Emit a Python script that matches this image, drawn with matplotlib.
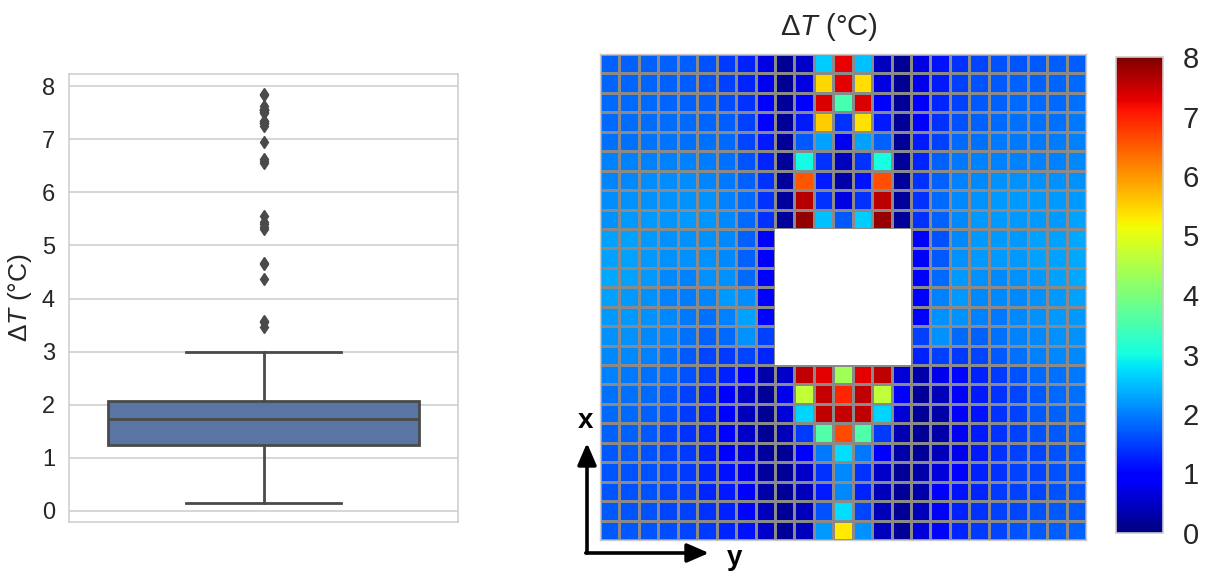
import numpy as np
import matplotlib
matplotlib.use("Agg")
import matplotlib.pyplot as plt
from matplotlib.colors import ListedColormap
from matplotlib.patches import FancyArrowPatch

plt.rcParams['font.family'] = ['Liberation Sans', 'DejaVu Sans']
plt.rcParams['mathtext.fontset'] = 'custom'
plt.rcParams['mathtext.rm'] = 'Liberation Sans'
plt.rcParams['mathtext.it'] = 'Liberation Sans:italic'

nan = np.nan
H7 = [nan] * 7

# Temperature rise per grid cell (°C); NaN marks the opening in the plate
row_00 = [1.77, 1.78, 1.78, 1.75, 1.72, 1.63, 1.44, 1.25, 0.70, 0.15, 0.50, 2.60, 7.25, 2.50, 0.45, 0.15, 0.70, 1.15, 1.38, 1.56, 1.63, 1.66, 1.69, 1.72, 1.74]
row_01 = [1.80, 1.80, 1.80, 1.78, 1.74, 1.68, 1.52, 1.30, 0.80, 0.15, 0.70, 5.45, 7.30, 5.40, 0.70, 0.15, 0.78, 1.19, 1.50, 1.63, 1.69, 1.75, 1.77, 1.80, 1.82]
row_02 = [1.82, 1.82, 1.82, 1.80, 1.78, 1.74, 1.60, 1.40, 0.90, 0.16, 0.95, 7.35, 3.47, 7.35, 0.95, 0.16, 0.85, 1.31, 1.53, 1.69, 1.75, 1.82, 1.82, 1.84, 1.88]
row_03 = [1.84, 1.86, 1.86, 1.86, 1.84, 1.80, 1.72, 1.50, 1.02, 0.18, 1.20, 5.55, 1.38, 5.35, 1.20, 0.18, 0.95, 1.38, 1.63, 1.75, 1.82, 1.88, 1.88, 1.90, 1.94]
row_04 = [1.88, 1.90, 1.92, 1.92, 1.90, 1.88, 1.82, 1.56, 1.19, 0.18, 1.70, 2.25, 0.80, 2.25, 1.75, 0.18, 1.19, 1.50, 1.82, 1.88, 1.94, 1.94, 1.94, 1.97, 2.00]
row_05 = [2.00, 2.00, 2.02, 2.02, 2.00, 1.98, 1.90, 1.68, 1.31, 0.20, 2.98, 1.40, 0.45, 1.40, 3.00, 0.20, 1.31, 1.75, 1.94, 2.00, 2.00, 2.00, 2.00, 2.03, 2.07]
row_06 = [2.05, 2.08, 2.10, 2.10, 2.10, 2.05, 1.96, 1.76, 1.38, 0.20, 6.56, 1.19, 0.30, 1.13, 6.60, 0.20, 1.38, 1.75, 2.00, 2.07, 2.13, 2.13, 2.13, 2.13, 2.13]
row_07 = [2.10, 2.14, 2.15, 2.13, 2.15, 2.13, 2.03, 1.82, 1.40, 0.20, 7.62, 1.38, 0.70, 1.38, 7.58, 0.20, 1.38, 1.82, 2.07, 2.13, 2.19, 2.19, 2.19, 2.19, 2.19]
row_08 = [2.15, 2.20, 2.20, 2.18, 2.20, 2.18, 2.08, 1.82, 1.38, 0.20, 7.86, 2.50, 1.69, 2.60, 7.84, 0.20, 1.38, 1.75, 2.07, 2.19, 2.19, 2.19, 2.19, 2.19, 2.25]
row_09 = [2.28, 2.27, 2.20, 2.13, 2.13, 2.13, 2.07, 1.75, 0.95] + H7 + [0.95, 1.63, 2.07, 2.19, 2.19, 2.19, 2.25, 2.25, 2.32]
row_10 = [2.28, 2.27, 2.20, 2.13, 2.13, 2.13, 2.07, 1.75, 0.95] + H7 + [0.95, 1.69, 2.13, 2.19, 2.19, 2.19, 2.25, 2.25, 2.32]
row_11 = [2.32, 2.26, 2.19, 2.07, 2.00, 2.13, 2.13, 1.82, 0.95] + H7 + [0.95, 1.82, 2.19, 2.13, 2.07, 2.13, 2.19, 2.25, 2.32]
row_12 = [2.26, 2.19, 2.13, 2.03, 1.97, 2.05, 2.19, 2.10, 0.95] + H7 + [0.95, 2.00, 2.19, 2.07, 2.07, 2.07, 2.13, 2.19, 2.25]
row_13 = [2.19, 2.19, 2.13, 2.07, 1.94, 1.88, 2.00, 2.25, 1.05] + H7 + [0.97, 2.13, 2.13, 2.00, 1.94, 2.07, 2.13, 2.19, 2.19]
row_14 = [2.13, 2.13, 2.07, 2.00, 1.88, 1.75, 1.82, 2.13, 1.50] + H7 + [1.50, 2.13, 1.82, 1.75, 1.88, 2.00, 2.07, 2.13, 2.13]
row_15 = [2.07, 2.07, 2.00, 1.88, 1.69, 1.56, 1.44, 1.56, 1.31] + H7 + [1.25, 1.50, 1.44, 1.56, 1.69, 1.88, 2.00, 2.07, 2.07]
row_16 = [2.00, 1.94, 1.88, 1.82, 1.63, 1.44, 1.25, 1.05, 0.30, 0.53, 7.55, 7.30, 4.36, 7.30, 7.55, 0.60, 0.30, 0.76, 1.05, 1.25, 1.44, 1.63, 1.82, 1.88, 1.94]
row_17 = [1.88, 1.88, 1.82, 1.69, 1.50, 1.31, 0.95, 0.53, 0.17, 0.76, 4.66, 7.50, 6.95, 7.55, 4.65, 0.85, 0.18, 0.41, 0.95, 1.19, 1.38, 1.56, 1.69, 1.82, 1.88]
row_18 = [1.82, 1.82, 1.75, 1.63, 1.44, 1.25, 0.95, 0.41, 0.15, 0.65, 2.66, 7.55, 7.52, 7.55, 2.66, 0.60, 0.16, 0.29, 0.95, 1.13, 1.38, 1.50, 1.69, 1.75, 1.82]
row_19 = [1.75, 1.75, 1.69, 1.56, 1.38, 1.25, 0.95, 0.53, 0.15, 0.41, 1.44, 3.58, 6.63, 3.55, 1.44, 0.35, 0.16, 0.29, 0.82, 1.19, 1.38, 1.50, 1.63, 1.69, 1.75]
row_20 = [1.69, 1.69, 1.63, 1.56, 1.44, 1.25, 0.95, 0.65, 0.20, 0.18, 0.92, 1.94, 2.73, 1.94, 0.92, 0.29, 0.18, 0.41, 0.78, 1.19, 1.38, 1.50, 1.56, 1.63, 1.69]
row_21 = [1.66, 1.64, 1.63, 1.56, 1.44, 1.31, 1.13, 0.76, 0.20, 0.16, 0.53, 1.38, 2.07, 1.38, 0.53, 0.16, 0.29, 0.65, 0.95, 1.25, 1.38, 1.50, 1.56, 1.63, 1.66]
row_22 = [1.66, 1.64, 1.63, 1.56, 1.47, 1.31, 1.19, 0.92, 0.29, 0.16, 0.41, 1.19, 2.07, 1.25, 0.41, 0.16, 0.29, 0.92, 1.13, 1.31, 1.44, 1.50, 1.56, 1.63, 1.66]
row_23 = [1.69, 1.66, 1.63, 1.56, 1.50, 1.38, 1.25, 1.05, 0.41, 0.16, 0.41, 1.63, 2.73, 1.56, 0.41, 0.16, 0.41, 0.95, 1.25, 1.38, 1.50, 1.56, 1.63, 1.69, 1.69]
row_24 = [1.69, 1.69, 1.66, 1.60, 1.54, 1.44, 1.31, 1.13, 0.53, 0.16, 0.41, 2.19, 5.31, 2.13, 0.41, 0.16, 0.65, 1.05, 1.31, 1.44, 1.54, 1.63, 1.69, 1.72, 1.75]

delta_t = np.array([row_00, row_01, row_02, row_03, row_04, row_05, row_06, row_07,
                    row_08, row_09, row_10, row_11, row_12, row_13, row_14, row_15,
                    row_16, row_17, row_18, row_19, row_20, row_21, row_22, row_23,
                    row_24], dtype=float)

cbar_ticks = [0, 1, 2, 3, 4, 5, 6, 7, 8]
label_text = 'Δ$T$ (°C)'

W, H = 1207, 579
fig = plt.figure(figsize=(W / 100, H / 100), dpi=100)


def px_box(left, top, right, bottom):
    return [left / W, 1 - bottom / H, (right - left) / W, (bottom - top) / H]


text_col = '#262626'
edge_col = '#cccccc'

# ---- box plot of all cell values ----
ax1 = fig.add_axes(px_box(69, 74, 458, 522))
values = delta_t[~np.isnan(delta_t)]
line_col = '#4a4a4a'
lw = 2.0
ax1.boxplot(values, positions=[0], widths=0.8, patch_artist=True,
            boxprops=dict(facecolor='#5975a4', edgecolor=line_col, linewidth=lw),
            medianprops=dict(color=line_col, linewidth=lw),
            whiskerprops=dict(color=line_col, linewidth=lw),
            capprops=dict(color=line_col, linewidth=lw),
            capwidths=0.4,
            flierprops=dict(marker='d', markerfacecolor=line_col, markeredgecolor=line_col,
                            markersize=6.5))
ax1.set_xlim(-0.5, 0.5)
ax1.set_ylim(-0.21, 8.23)
ax1.set_yticks(cbar_ticks)
ax1.set_xticks([])
ax1.grid(axis='y', color=edge_col, linewidth=1.1)
ax1.set_axisbelow(True)
for s in ax1.spines.values():
    s.set_color(edge_col)
    s.set_linewidth(1.1)
ax1.tick_params(axis='y', length=0, labelsize=17, labelcolor=text_col, pad=10)
ax1.set_ylabel(label_text, fontsize=19, color=text_col, labelpad=6)

# ---- spatial map ----
ax2 = fig.add_axes(px_box(600, 54, 1086, 540))
n_rows, n_cols = delta_t.shape
xe = np.arange(n_cols + 1)
ye = np.arange(n_rows + 1)
mesh = ax2.pcolormesh(xe, ye, np.ma.masked_invalid(delta_t),
                      cmap='jet', vmin=0, vmax=8, edgecolors='#8a8a8a', linewidth=1.0)
# the opening: blank cells without grid lines
opening = np.ma.masked_where(~np.isnan(delta_t), np.ones_like(delta_t))
ax2.pcolormesh(xe, ye, opening, cmap=ListedColormap(['white']),
               edgecolors='none', zorder=3)
ax2.set_xlim(0, n_cols)
ax2.set_ylim(n_rows, 0)
ax2.set_xticks([])
ax2.set_yticks([])
for s in ax2.spines.values():
    s.set_color(edge_col)
    s.set_linewidth(1.0)
ax2.set_title(label_text, fontsize=21, color=text_col, pad=14, x=(829 - 600) / 486)

cax = fig.add_axes(px_box(1116, 57, 1163, 533))
cb = fig.colorbar(mesh, cax=cax, ticks=cbar_ticks)
cb.outline.set_edgecolor(edge_col)
cb.outline.set_linewidth(1.2)
cax.tick_params(length=0, labelsize=21, labelcolor=text_col, pad=14)

# ---- orientation arrows ----
ox, oy = 587 / W, 1 - 553 / H
arrow_kw = dict(transform=fig.transFigure,
                arrowstyle='-|>,head_length=6,head_width=2.6', mutation_scale=2.2,
                color='black', linewidth=2.6, shrinkA=0, shrinkB=0)
fig.add_artist(FancyArrowPatch((ox, oy), (ox, 1 - 443 / H), **arrow_kw))
fig.add_artist(FancyArrowPatch((ox - 1.2 / W, oy), (709 / W, oy), **arrow_kw))
fig.text(585 / W, 1 - 421 / H, 'x', fontsize=20, fontweight='bold',
         ha='center', va='center')
fig.text(735 / W, 1 - 558 / H, 'y', fontsize=20, fontweight='bold',
         ha='center', va='center')

fig.savefig('out.png', dpi=100, facecolor='white')
